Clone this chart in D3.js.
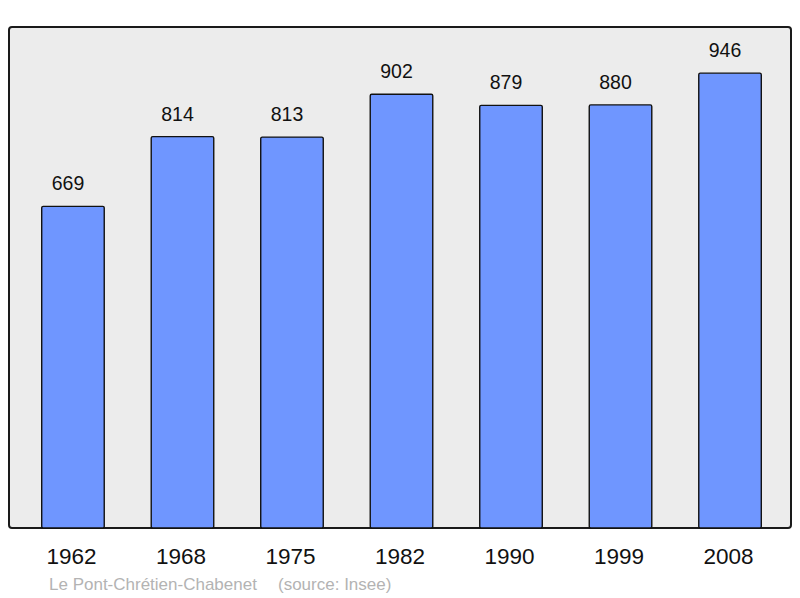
<!DOCTYPE html>
<html>
<head>
<meta charset="utf-8">
<script src="https://cdn.jsdelivr.net/npm/d3@7"></script>
<style>
  body { margin: 0; background: #fff; }
  text { font-family: "Liberation Sans", Arial, sans-serif; }
</style>
</head>
<body>
<div id="chart"></div>
<script>
const years = ['1962', '1968', '1975', '1982', '1990', '1999', '2008'];
const population = [669, 814, 813, 902, 879, 880, 946];
const commune = 'Le Pont-Chrétien-Chabenet';
const source = '(source: Insee)';

const W = 800, H = 598;
const panel = { x0: 9, y0: 27, x1: 791, y1: 528 };

const svg = d3.select('#chart').append('svg')
    .attr('width', W)
    .attr('height', H);

svg.append('rect')
    .attr('x', panel.x0)
    .attr('y', panel.y0)
    .attr('width', panel.x1 - panel.x0)
    .attr('height', panel.y1 - panel.y0)
    .attr('rx', 3)
    .attr('fill', '#ececec')
    .attr('stroke', '#1a1a1a')
    .attr('stroke-width', 2);

const x = d3.scaleBand()
    .domain(years)
    .range([panel.x0 + 1.5, panel.x1 + 1.5])
    .paddingInner(0.429)
    .paddingOuter(0.285);

const y = d3.scaleLinear()
    .domain([0, 1042])
    .range([panel.y1, panel.y0]);

const rows = years.map((yr, i) => ({ year: yr, value: population[i] }));

svg.append('g')
    .selectAll('rect')
    .data(rows)
    .join('rect')
    .attr('x', d => x(d.year))
    .attr('y', d => y(d.value))
    .attr('width', x.bandwidth())
    .attr('height', d => y(0) - y(d.value))
    .attr('rx', 1.5)
    .attr('fill', '#6f96ff')
    .attr('stroke', '#111')
    .attr('stroke-width', 1.4);

// value labels sit a little left of the bar centre in the original
svg.append('g')
    .selectAll('text')
    .data(rows)
    .join('text')
    .attr('x', d => x(d.year) + x.bandwidth() / 2 - 5)
    .attr('y', d => y(d.value) - 16)
    .attr('text-anchor', 'middle')
    .attr('font-size', 19.5)
    .attr('fill', '#111')
    .text(d => d.value);

// year labels along the bottom
const axis = d3.axisBottom(x).tickSize(0).tickPadding(0);
const gx = svg.append('g')
    .attr('transform', `translate(-1.5,${panel.y1})`)
    .call(axis);
gx.select('.domain').remove();
gx.selectAll('text')
    .attr('dy', null)
    .attr('y', 36)
    .attr('font-size', 22.5)
    .attr('font-family', '"Liberation Sans", Arial, sans-serif')
    .attr('fill', '#111');

svg.append('text')
    .attr('x', 49)
    .attr('y', 590)
    .attr('font-size', 17)
    .attr('fill', '#b3b3b3')
    .text(commune);

svg.append('text')
    .attr('x', 278)
    .attr('y', 590)
    .attr('font-size', 17)
    .attr('fill', '#b3b3b3')
    .text(source);
</script>
</body>
</html>
